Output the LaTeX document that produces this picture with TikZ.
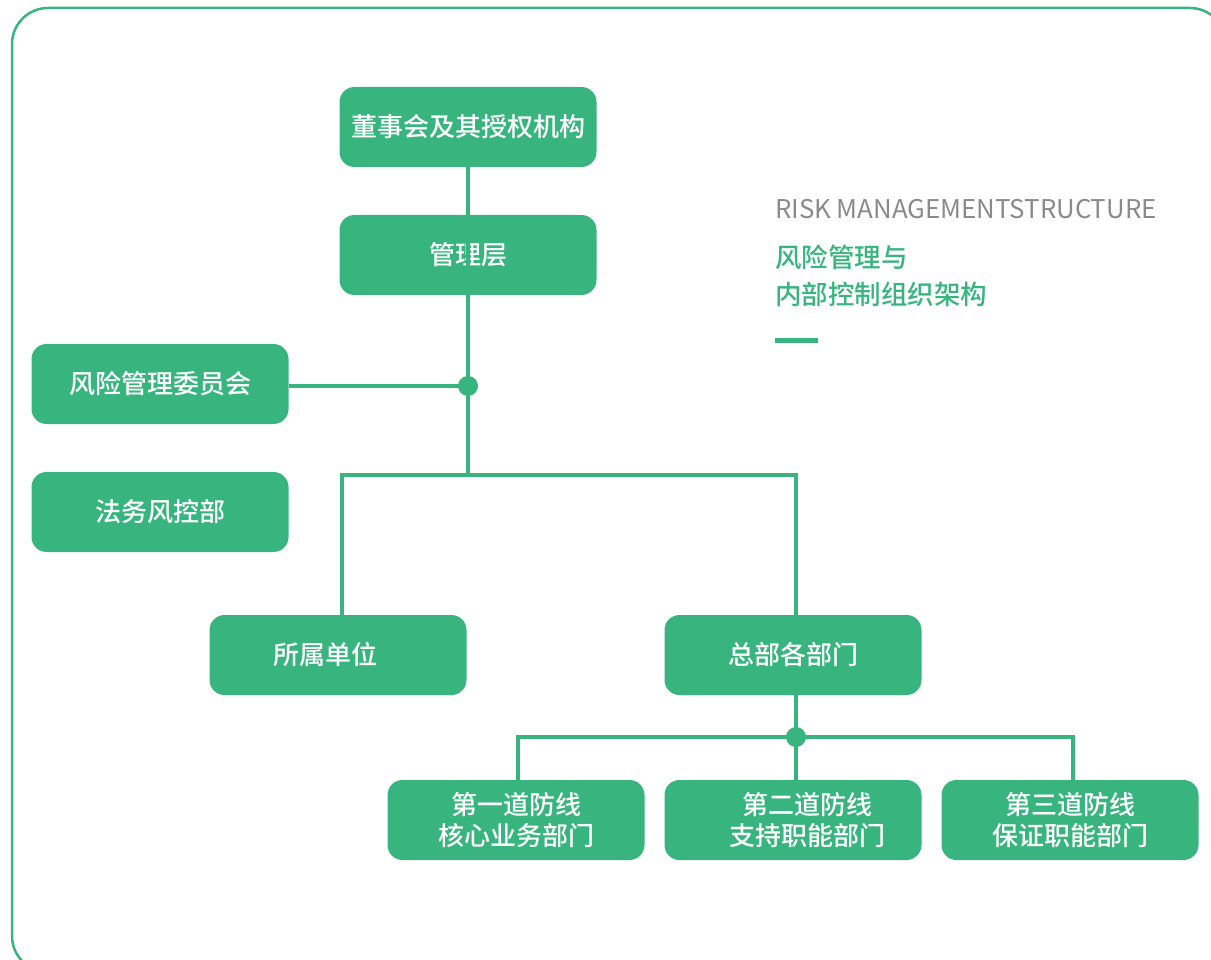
\documentclass[tikz,border=0pt]{standalone}
\usepackage{fontspec}
\setmainfont{Noto Sans CJK SC}
\newfontfamily\cjkmed{Noto Sans CJK SC Medium}
\definecolor{riskgreen}{HTML}{38B57F}
\definecolor{titlegray}{HTML}{8A8A8A}
\begin{document}
\begin{tikzpicture}[x=1pt,y=-1pt]
\tikzstyle{unit}=[fill=riskgreen, rounded corners=15pt, minimum width=257pt, minimum height=80pt,
  text=white, font=\cjkmed\fontsize{26}{31}\selectfont, align=center, inner sep=0pt]
\tikzstyle{link}=[draw=riskgreen, line width=4pt]
\tikzstyle{dot}=[circle, fill=riskgreen, minimum size=20pt, inner sep=0pt]
\useasboundingbox (0,0) rectangle (1211,960);
\begin{scope}
\clip (0,0) rectangle (1211,960);
\draw [riskgreen, line width=2.5pt, rounded corners=36pt] (12,8) rectangle (1226,972);
\end{scope}
% title
\node [anchor=base west, inner sep=0pt, text=titlegray, font=\fontsize{25.8}{30}\selectfont] (entitle) at (775,219) {RISK MANAGEMENTSTRUCTURE};
\node [anchor=north west, inner sep=0pt, text=riskgreen, align=left, font=\cjkmed\fontsize{26.5}{37}\selectfont] (cntitle) at (775,245) {风险管理与\\内部控制组织架构};
\fill [riskgreen] (775,337.5) rectangle (818,342.5);
% boxes
\node [unit] (board) at (468,127) {董事会及其授权机构};
\node [unit] (mgmt) at (468,255) {管理层};
\node [unit] (riskcom) at (160,384) {风险管理委员会};
\node [unit] (legal) at (160,512) {法务风控部};
\node [unit] (branch) at (338,655) {\hspace*{-26pt}所属单位};
\node [unit] (hq) at (793,655) {总部各部门};
\node [unit] (line1) at (516,820) {第一道防线\\核心业务部门};
\node [unit] (line2) at (793,820) {\hspace*{28pt}第二道防线\\\hspace*{28pt}支持职能部门};
\node [unit] (line3) at (1070,820) {第三道防线\\保证职能部门};
% connectors
\node [dot] (mdot) at (468,386) {};
\coordinate (split) at (468,475);
\node [dot] (hdot) at (796,737) {};
\draw [link] (board.south) -- (mgmt.south);
\draw [link] (mgmt.south) -- (mdot.center) -- (split);
\draw [link] (riskcom.east |- mdot) -- (mdot.center);
\draw [link] (branch.north -| 342,0) |- (split) -| (hq.north -| 796,0);
\draw [link] (hq.south -| 796,0) -- (hdot.center);
\draw [link] (line1.north -| 518,0) |- (hdot.center) -| (line3.north -| 1073,0);
\draw [link] (hdot.center) -- (line2.north -| 796,0);
\end{tikzpicture}
\end{document}
